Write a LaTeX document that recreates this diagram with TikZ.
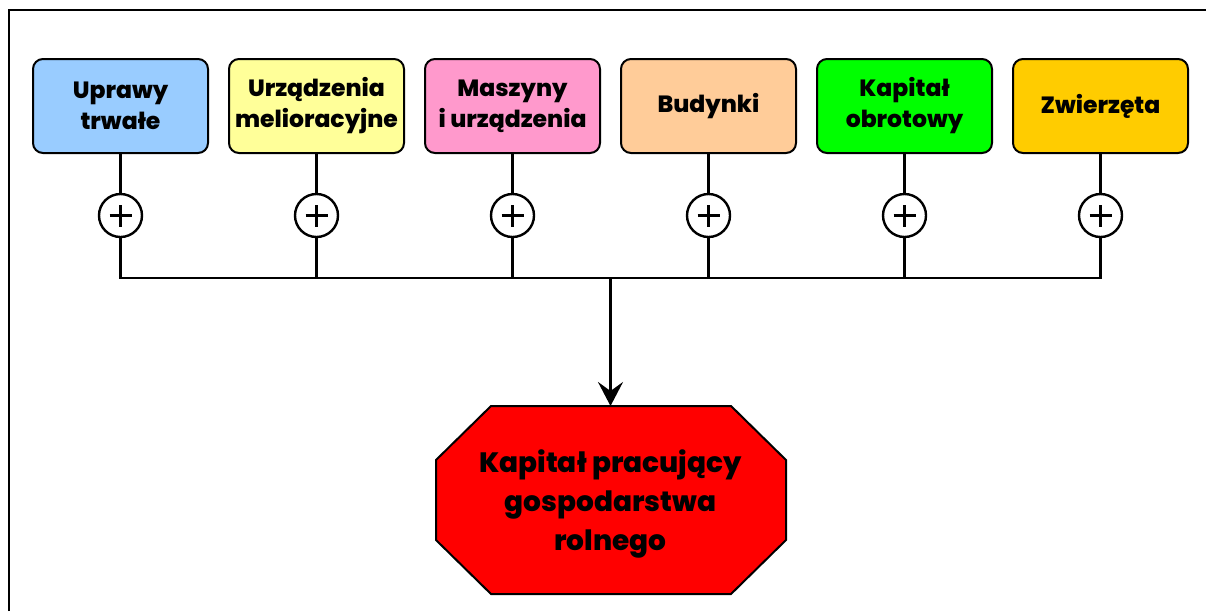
\documentclass[tikz,border=0pt]{standalone}
\usepackage{fontspec}
\setmainfont{Poppins}[BoldFont={Poppins ExtraBold}]
\usetikzlibrary{arrows.meta}
\definecolor{cblue}{HTML}{99CCFF}
\definecolor{cyellow}{HTML}{FFFF99}
\definecolor{cpink}{HTML}{FF99CC}
\definecolor{cpeach}{HTML}{FFCC99}
\definecolor{cgreen}{HTML}{00FF00}
\definecolor{cgold}{HTML}{FFCC00}
\definecolor{cred}{HTML}{FF0000}
\begin{document}
\begin{tikzpicture}[x=1pt,y=-1pt,
  catbox/.style={draw=black, line width=2pt, rounded corners=10pt,
    minimum width=175pt, minimum height=94pt, align=center, inner sep=0pt,
    font=\fontsize{23.5}{31}\selectfont\bfseries},
  plusnode/.style={circle, draw=black, line width=2.4pt, fill=white,
    minimum size=43pt, inner sep=0pt,
    path picture={
      \draw[line width=2.6pt] ([xshift=-11pt]path picture bounding box.center) -- ([xshift=11pt]path picture bounding box.center);
      \draw[line width=2.6pt] ([yshift=-11pt]path picture bounding box.center) -- ([yshift=11pt]path picture bounding box.center);
    }},
  link/.style={line width=2.4pt, draw=black},
  octtext/.style={minimum width=350pt, minimum height=196pt, align=center, inner sep=0pt,
    outer sep=0pt, font=\fontsize{28}{39}\selectfont\bfseries}]
\useasboundingbox (0,0) rectangle (1206,611);
% frame
\draw[line width=2.8pt] (9,611) -- (9,10) -- (1206,10);
% boxes
\node[catbox, fill=cblue]   (b1) at (120.5,106) {Uprawy\\trwałe};
\node[catbox, fill=cyellow] (b2) at (316.5,106) {Urządzenia\\melioracyjne};
\node[catbox, fill=cpink]   (b3) at (512.5,106) {Maszyny\\i urządzenia};
\node[catbox, fill=cpeach]  (b4) at (708.5,106) {Budynki};
\node[catbox, fill=cgreen]  (b5) at (904.5,106) {Kapitał\\obrotowy};
\node[catbox, fill=cgold]   (b6) at (1100.5,106) {Zwierzęta};
% plus circles
\foreach \i/\x in {1/120.5,2/316.5,3/512.5,4/708.5,5/904.5,6/1100.5}{
  \node[plusnode] (p\i) at (\x,215.5) {};
  \draw[link] (b\i) -- (p\i);
}
\coordinate (bus) at (610.5,278);
\draw[link] (p1.south) |- (bus) -| (p6.south);
\foreach \i in {2,3,4,5}{
  \draw[link] (p\i.south) -- (p\i.south |- bus);
}
% octagon
\filldraw[fill=cred, draw=black, line width=2pt]
  (491,406) -- (731,406) -- (786,460) -- (786,540) -- (731,594) -- (491,594) -- (436,540) -- (436,460) -- cycle;
\node[octtext] (oct) at (610.5,504) {Kapitał pracujący\\gospodarstwa\\rolnego};
\draw[link, -{Stealth[length=24pt, width=25pt, inset=9pt]}] (bus) -- (oct.north);
\end{tikzpicture}
\end{document}
